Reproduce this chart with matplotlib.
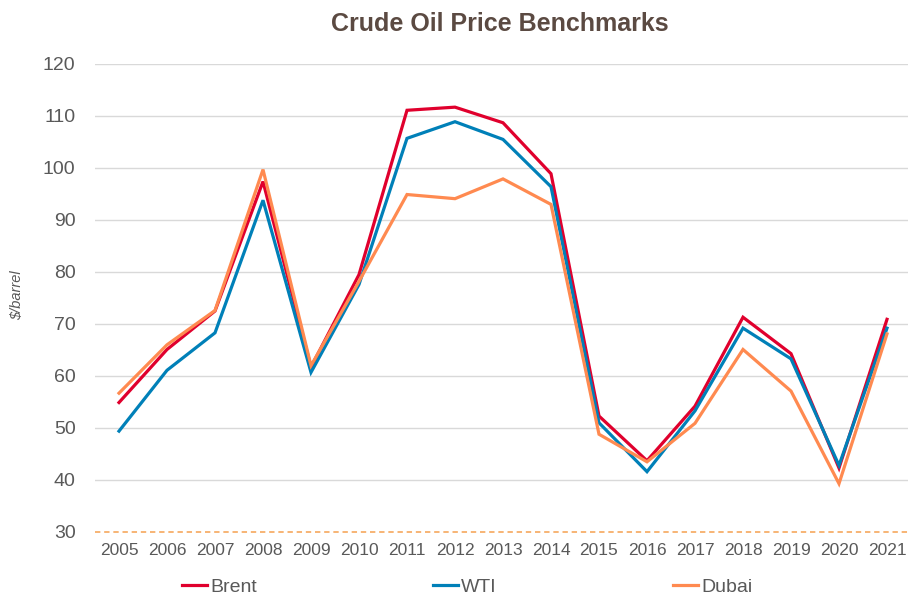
import matplotlib
matplotlib.use("Agg")
import matplotlib.pyplot as plt
from matplotlib.lines import Line2D

years = ["2005", "2006", "2007", "2008", "2009", "2010", "2011", "2012", "2013",
         "2014", "2015", "2016", "2017", "2018", "2019", "2020", "2021"]
brent = [54.9, 65.1, 72.5, 97.4, 61.7, 79.5, 111.1, 111.7, 108.7, 98.9,
         52.3, 43.7, 54.2, 71.3, 64.3, 42.3, 70.9]
wti = [49.4, 61.1, 68.3, 93.8, 60.7, 77.6, 105.7, 108.9, 105.5, 96.4,
       51.0, 41.6, 53.3, 69.2, 63.3, 42.8, 69.2]
dubai = [56.7, 66.0, 72.6, 99.7, 62.0, 78.2, 94.9, 94.1, 97.9, 93.0,
         48.8, 43.5, 50.9, 65.1, 57.1, 39.3, 68.1]
series_names = ["Brent", "WTI", "Dubai"]
y_ticks = [30, 40, 50, 60, 70, 80, 90, 100, 110, 120]

colors = ["#E0002D", "#0080B8", "#FF8A50"]
text_color = "#595959"

plt.rcParams['font.family'] = ['Liberation Sans', 'DejaVu Sans']

fig = plt.figure(figsize=(9.08, 5.98), dpi=100)
ax = fig.add_axes([95 / 908, 1 - 532 / 598, 816 / 908, (532 - 64) / 598])

x = list(range(len(years)))
for vals, c in zip([brent, wti, dubai], colors):
    ax.plot(x, vals, color=c, lw=2.3, solid_joinstyle='miter', zorder=3)

ax.set_xlim(-0.5, len(years) - 0.5)
ax.set_ylim(30, 120)
ax.set_yticks(y_ticks)
ax.set_xticks(x)
ax.set_xticklabels(years)
for t in y_ticks[1:]:
    ax.axhline(t, color="#D9D9D9", lw=1.0, zorder=1)
ax.axhline(30, color="#F5A050", lw=1.1, ls=(0, (3.5, 2.5)), zorder=2,
           clip_on=False)
for s in ax.spines.values():
    s.set_visible(False)
ax.tick_params(axis='both', length=0, colors=text_color)
ax.tick_params(axis='x', labelsize=12.5, pad=8)
ax.tick_params(axis='y', labelsize=14, pad=14)

fig.text(17 / 908, 1 - 295 / 598, r"\$/barrel", rotation=90, style='italic',
         fontsize=10.5, color=text_color, ha='center', va='center')
fig.text(500 / 908, 1 - 24 / 598, "Crude Oil Price Benchmarks", fontsize=18,
         fontweight='bold', color="#5B4A42", ha='center', va='center')

leg_x = [182, 433, 673]
for name, c, lx in zip(series_names, colors, leg_x):
    h = Line2D([], [], color=c, lw=2.3)
    lg = fig.legend([h], [name], loc='center left',
                    bbox_to_anchor=(lx / 908, 1 - 587 / 598),
                    frameon=False, fontsize=14, handlelength=1.3,
                    handletextpad=0.15, borderpad=0, borderaxespad=0)
    for t in lg.get_texts():
        t.set_color(text_color)

fig.savefig("out.png", dpi=100)
